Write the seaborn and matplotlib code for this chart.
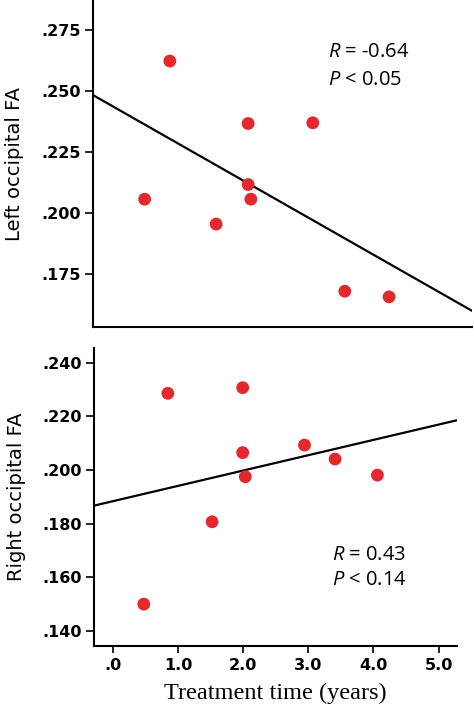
import numpy as np
import pandas as pd
import matplotlib
matplotlib.use('Agg')
import matplotlib.pyplot as plt
import seaborn as sns

# values
treatment_years = [0.47, 0.84, 1.52, 1.99, 1.99, 2.03, 2.94, 3.41, 4.06]
left_fa = [0.2057, 0.2623, 0.1955, 0.2367, 0.2117, 0.2057, 0.2370, 0.1680, 0.1657]
right_fa = [0.1500, 0.2286, 0.1807, 0.2307, 0.2065, 0.1975, 0.2093, 0.2041, 0.1981]
left_stats = ['$R$ = -0.64', '$P$ < 0.05']
right_stats = ['$R$ = 0.43', '$P$ < 0.14']
x_ticks = [0, 1, 2, 3, 4, 5]
x_ticklabels = ['.0', '1.0', '2.0', '3.0', '4.0', '5.0']
left_yticks = [0.175, 0.200, 0.225, 0.250, 0.275]
right_yticks = [0.140, 0.160, 0.180, 0.200, 0.220, 0.240]

df = pd.DataFrame({'years': treatment_years, 'left': left_fa, 'right': right_fa})

sns.set_style('ticks')
plt.rcParams['font.family'] = ['DejaVu Sans']
plt.rcParams['mathtext.fontset'] = 'custom'
plt.rcParams['mathtext.it'] = 'Open Sans:italic'
plt.rcParams['mathtext.rm'] = 'Open Sans'
for k in ['text.color', 'axes.labelcolor', 'xtick.color', 'ytick.color', 'axes.edgecolor']:
    plt.rcParams[k] = 'black'

dot_color = '#e3292d'
fig = plt.figure(figsize=(4.74, 7.08), dpi=100)
ax_top = fig.add_axes([0.196, 0.538, 0.800, 0.462])
ax_bot = fig.add_axes([0.199, 0.0876, 0.7646, 0.4209])

xlim = (-0.29, 5.28)


def draw_panel(ax, col, ylim, yticks, ylabel, stats, txt_xy):
    ax.set_xlim(*xlim)
    ax.set_ylim(*ylim)
    sns.regplot(data=df, x='years', y=col, ax=ax, ci=None, truncate=False,
                scatter_kws=dict(s=85, color=dot_color, edgecolor='none', alpha=1, zorder=3),
                line_kws=dict(color='black', lw=1.6, zorder=2))
    ax.set_xlim(*xlim)
    ax.set_ylim(*ylim)
    ax.set_yticks(yticks)
    ax.set_yticklabels(['.' + ('%.3f' % v).split('.')[1] for v in yticks],
                       fontsize=11.5, fontweight='bold')
    ax.set_ylabel(ylabel, fontsize=14, labelpad=12)
    for s in ['top', 'right']:
        ax.spines[s].set_visible(False)
    for s in ['left', 'bottom']:
        ax.spines[s].set_linewidth(1.5)
    ax.tick_params(axis='y', length=6, width=1.2, pad=3)
    for i, t in enumerate(stats):
        ax.text(txt_xy[0], txt_xy[1] - i * 0.085, t, transform=ax.transAxes,
                fontsize=14.5, family='Open Sans', va='center', ha='left')


draw_panel(ax_top, 'left', (0.1533, 0.2873), left_yticks, 'Left occipital FA',
           left_stats, (0.621, 0.84))
ax_top.set_xticks([])
ax_top.set_xlabel('')

draw_panel(ax_bot, 'right', (0.1344, 0.2455), right_yticks, 'Right occipital FA',
           right_stats, (0.656, 0.305))
ax_bot.set_xticks(x_ticks)
ax_bot.set_xticklabels(x_ticklabels, fontsize=11.5, fontweight='bold')
ax_bot.tick_params(axis='x', length=5, width=1.2, pad=4)
ax_bot.set_xlabel('Treatment time (years)', fontsize=17.5, family='Liberation Serif', labelpad=7)

fig.savefig('out.png', dpi=100)
